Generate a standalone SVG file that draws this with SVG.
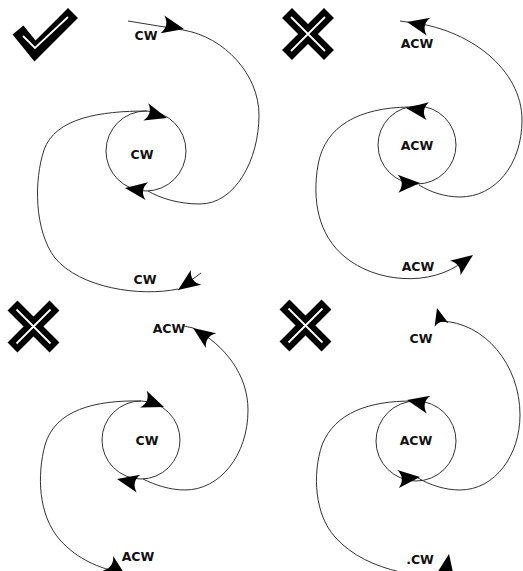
<svg xmlns="http://www.w3.org/2000/svg" xmlns:xlink="http://www.w3.org/1999/xlink" width="523" height="571" viewBox="0 0 523 571">
<style>
.c{fill:none;stroke:#333;stroke-width:1}
.t{font-family:"DejaVu Sans",sans-serif;font-weight:bold;font-size:12.5px;fill:#111;text-anchor:middle}
.mk{fill:none;stroke:#000;stroke-width:14;stroke-linejoin:miter;stroke-linecap:butt}
.mw{fill:none;stroke:#fff;stroke-width:1.8}
</style>
<defs>
<path id="ah" d="M0,0 L-22,-9 C-17,-3 -17,3 -22,9 Z" fill="#000"/>
<g id="xm">
<path class="mk" d="M-21,-21 L21,21 M21,-21 L-21,21"/>
<path class="mw" d="M-17,-17 L17,17 M17,-17 L-17,17"/>
</g>
</defs>
<rect width="523" height="571" fill="#fff"/>

<g id="mark-check">
<path class="mk" d="M18,30 L35,51 L73,13"/>
<path class="mw" d="M23,36 L35,48 L68,17"/>
</g>
<g id="mark-x1"><use xlink:href="#xm" transform="translate(308,34)"/></g>
<g id="mark-x2"><use xlink:href="#xm" transform="translate(33.5,326.5)"/></g>
<g id="mark-x3"><use xlink:href="#xm" transform="translate(305.5,325.5)"/></g>

<g id="circle1"><circle class="c" cx="146" cy="151" r="40"/><text class="t" x="142" y="159">CW</text></g>
<g id="circle2"><circle class="c" cx="417" cy="145" r="39"/><text class="t" x="417" y="150">ACW</text></g>
<g id="circle3"><circle class="c" cx="141" cy="440" r="39"/><text class="t" x="147" y="445">CW</text></g>
<g id="circle4"><circle class="c" cx="416" cy="441" r="40"/><text class="t" x="416" y="445">ACW</text></g>

<g id="labels">
<text class="t" x="146" y="40">CW</text>
<text class="t" x="145" y="284">CW</text>
<text class="t" x="417" y="48">ACW</text>
<text class="t" x="418" y="271">ACW</text>
<text class="t" x="169" y="333">ACW</text>
<text class="t" x="138" y="561">ACW</text>
<text class="t" x="421" y="343">CW</text>
<text class="t" x="420" y="564">.CW</text>
</g>

<g id="connectors">
<path class="c" d="M128,21 L183,30 C225,37 259,75 259,115 C259,160 235,204 200,204 C178,204 160,198 148,191"/>
<path class="c" d="M147,111 C100,111 55,118 44,150 C34,180 34,230 55,258 C80,288 140,297 178,289"/>
<path class="c" d="M178,290 L201,273"/>
<use xlink:href="#ah" transform="translate(184,29) rotate(12)"/>
<use xlink:href="#ah" transform="translate(167,118) rotate(16)"/>
<use xlink:href="#ah" transform="translate(125,188) rotate(188)"/>
<use xlink:href="#ah" transform="translate(178,290) rotate(145)"/>

<path class="c" d="M400,21 L407,22 C470,28 522,70 522,120 C522,165 495,197 460,197 C445,197 430,192 419,185"/>
<path class="c" d="M408,107 C360,108 325,125 318,165 C312,200 318,235 345,257 C375,282 430,288 464,261"/>
<use xlink:href="#ah" transform="translate(407,22) rotate(192)"/>
<use xlink:href="#ah" transform="translate(406,108) rotate(188)"/>
<use xlink:href="#ah" transform="translate(420,183) rotate(-2)"/>
<use xlink:href="#ah" transform="translate(473,255) rotate(-36)"/>

<path class="c" d="M184,326 L193,328 C225,345 248,375 248,410 C248,455 220,490 185,490 C170,490 155,485 143,479"/>
<path class="c" d="M141,401 C95,400 55,410 45,445 C37,475 38,515 60,540 C78,560 100,568 118,572"/>
<use xlink:href="#ah" transform="translate(193,328) rotate(215)"/>
<use xlink:href="#ah" transform="translate(164,407) rotate(21)"/>
<use xlink:href="#ah" transform="translate(117,479) rotate(192)"/>
<use xlink:href="#ah" transform="translate(126,576) rotate(35)"/>

<path class="c" d="M440,321 C485,322 520,365 520,415 C520,455 495,490 460,490 C445,490 430,485 418,478"/>
<path class="c" d="M412,401 C370,401 335,412 322,445 C312,475 315,515 335,537 C352,556 375,566 400,572"/>
<use xlink:href="#ah" transform="translate(437,308) rotate(-105) scale(0.8)"/>
<use xlink:href="#ah" transform="translate(407,400) rotate(192)"/>
<use xlink:href="#ah" transform="translate(420,477) rotate(-5)"/>
<use xlink:href="#ah" transform="translate(449,554) rotate(-80)"/>
</g>
</svg>
